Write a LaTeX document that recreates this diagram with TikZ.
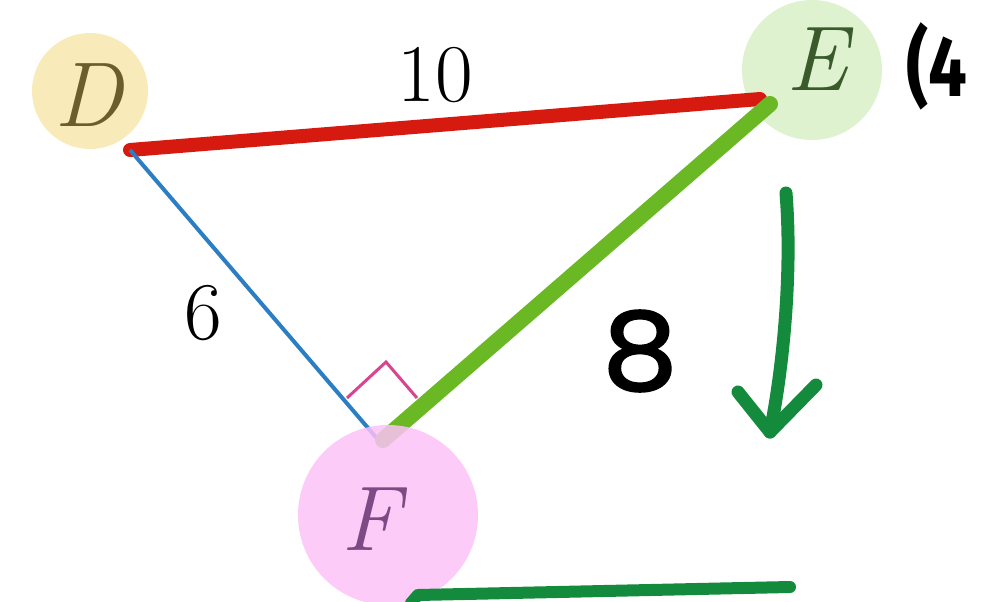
\documentclass[tikz,border=0pt]{standalone}
\usepackage{fontspec}
\newfontfamily\handfont{Poppins}
\newfontfamily\notefont{Fira Sans}
\usepackage{tikz}

\definecolor{dfill}{HTML}{F8EBB9}
\definecolor{efill}{HTML}{DFF2D0}
\definecolor{ffill}{HTML}{FBC2F6}
\definecolor{dtext}{HTML}{6B5E2C}
\definecolor{etext}{HTML}{3B5A2C}
\definecolor{ftext}{HTML}{7D4A85}
\definecolor{redside}{HTML}{D61A10}
\definecolor{blueside}{HTML}{2B7EC3}
\definecolor{greenside}{HTML}{6AB823}
\definecolor{rightmark}{HTML}{D9448F}
\definecolor{penink}{HTML}{148A3C}

\begin{document}
\begin{tikzpicture}[x=1pt,y=-1pt]
  \tikzstyle{ball}=[circle,inner sep=0pt]
  \tikzstyle{letter}=[inner sep=0pt,font=\fontsize{92}{96}\selectfont\itshape]
  \tikzstyle{num}=[inner sep=0pt,font=\fontsize{82}{86}\selectfont]
  \tikzstyle{pen}=[line cap=round,line join=round]
  \useasboundingbox (0,0) rectangle (983,602);
  % vertex circles
  \node[ball,fill=dfill,minimum size=116pt] (Dc) at (90,91) {};
  \node[ball,fill=efill,minimum size=140pt] (Ec) at (812,70) {};
  % triangle corners
  \coordinate (d) at (130,150);
  \coordinate (e) at (760,99);
  \coordinate (eg) at (770,104);
  \coordinate (f) at (380,442);
  \coordinate (fg) at (383,440);
  \draw[pen,redside,line width=14pt] (d) -- (e);
  \draw[blueside,line width=4pt] (d) -- (f);
  \draw[pen,greenside,line width=16pt] (fg) -- (eg);
  % right angle at F
  \coordinate (r1) at (347,398);
  \coordinate (r2) at (386,362);
  \coordinate (r3) at (417,398);
  \draw[rightmark,line width=3pt] (r1) -- (r2) -- (r3);
  \node[ball,fill=ffill,fill opacity=.85,minimum size=180pt] (Fc) at (388,515) {};
  \node[letter,text=dtext] (D) at (88,95) {D};
  \node[letter,text=etext] (E) at (817,59) {E};
  \node[letter,text=ftext] (F) at (371,519) {F};
  \node[num] (ten) at (435,75) {10};
  \node[num] (six) at (203,313) {6};
  \node[inner sep=0pt,font=\notefont\bfseries\fontsize{86}{90}\selectfont,xscale=.8] (four) at (937,66) {(4};
  % hand notes
  \node[inner sep=0pt,font=\handfont\addfontfeature{FakeBold=2}\fontsize{108}{112}\selectfont,xscale=1.1] (eight) at (640,351) {8};
  \coordinate (a1) at (786,193);
  \coordinate (a2) at (770,432);
  \coordinate (a3) at (738,392);
  \coordinate (a4) at (816,385);
  \draw[pen,penink,line width=13pt] (a1) .. controls (793,280) and (781,380) .. (a2);
  \draw[pen,penink,line width=13pt] (a3) -- (a2) -- (a4);
  \coordinate (b1) at (418,595);
  \coordinate (b2) at (790,587);
  \coordinate (b0) at (411,603);
  \draw[pen,penink,line width=12pt] (b0) -- (b1) -- (b2);
\end{tikzpicture}
\end{document}
